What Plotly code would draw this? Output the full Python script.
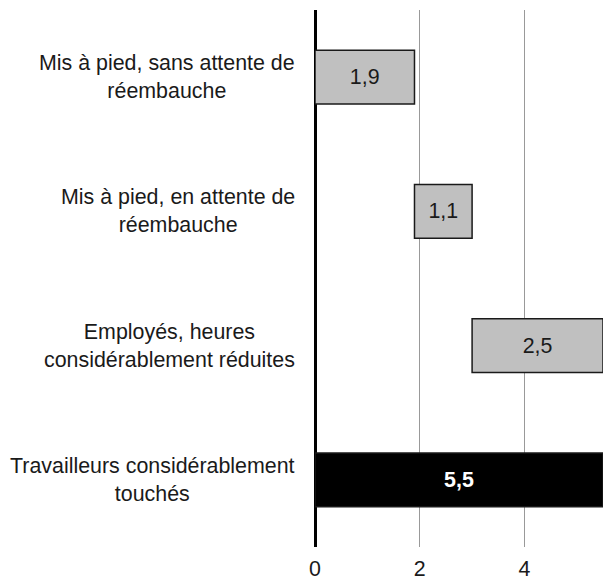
import plotly.graph_objects as go

# Categories (top to bottom) and their contributions
categories = [
    "Mis à pied, sans attente de<br>réembauche",
    "Mis à pied, en attente de<br>réembauche",
    "Employés, heures<br>considérablement réduites",
    "Travailleurs considérablement<br>touchés",
]
values = [1.9, 1.1, 2.5, 5.5]
is_total = [False, False, False, True]
x_ticks = [0, 2, 4]

FONT = "Liberation Sans, Arial, sans-serif"
FS = 21.4

# Floating bars: each step starts where the previous one ended; total starts at 0
bases = []
running = 0.0
for v, tot in zip(values, is_total):
    if tot:
        bases.append(0.0)
    else:
        bases.append(running)
        running += v

fill = ["#000000" if t else "#c0c0c0" for t in is_total]
txt_col = ["#ffffff" if t else "#1a1a1a" for t in is_total]
labels = [
    f"<b>{v:.1f}</b>".replace(".", ",") if t else f"{v:.1f}".replace(".", ",")
    for v, t in zip(values, is_total)
]
ids = list(range(len(categories)))

fig = go.Figure()
fig.add_trace(go.Bar(
    y=ids,
    x=values,
    base=bases,
    orientation="h",
    marker=dict(color=fill, line=dict(color="#1a1a1a", width=1.5)),
    text=labels,
    textposition="inside",
    insidetextanchor="middle",
    textangle=0,
    textfont=dict(size=FS, color=txt_col, family=FONT),
    width=0.4,
    cliponaxis=False,
    hoverinfo="skip",
))

# Category labels, centred on each line, to the left of the axis
for i, c in zip(ids, categories):
    fig.add_annotation(
        x=0, xref="paper", xshift=-18,
        y=i, yref="y",
        text=c, showarrow=False,
        xanchor="right", yanchor="middle", align="center",
        font=dict(size=FS, color="#1a1a1a", family=FONT),
    )

fig.update_layout(
    width=603, height=580,
    margin=dict(l=315, r=0, t=10, b=33),
    paper_bgcolor="white",
    plot_bgcolor="white",
    showlegend=False,
    font=dict(family=FONT, size=FS, color="#1a1a1a"),
    xaxis=dict(
        range=[0, 5.5],
        tickvals=x_ticks,
        ticktext=[str(t) for t in x_ticks],
        showgrid=True, gridcolor="#999999", gridwidth=1,
        zeroline=True, zerolinecolor="#000000", zerolinewidth=3,
        showline=False,
        ticks="", ticklabelstandoff=7,
        automargin=False,
        tickfont=dict(size=FS, color="#1a1a1a"),
    ),
    yaxis=dict(
        range=[3.5, -0.5],
        showticklabels=False,
        showgrid=False, zeroline=False, showline=False,
        automargin=False,
    ),
)

fig.write_html("out.html")
